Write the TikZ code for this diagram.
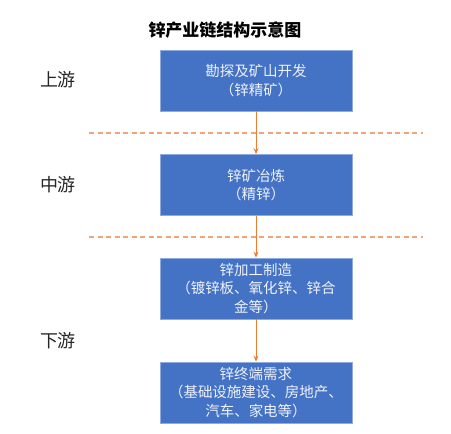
\documentclass[tikz,border=0pt]{standalone}
\usepackage{fontspec}
\newfontfamily\cjk{Noto Sans CJK SC}
\usetikzlibrary{arrows.meta}
\definecolor{boxblue}{HTML}{4472C4}
\definecolor{boxedge}{HTML}{8FAADC}
\definecolor{arrowor}{HTML}{ED7D31}
\definecolor{dashor}{HTML}{EFA57A}
\definecolor{boxtext}{HTML}{EEF2FA}
\tikzset{
  stagebox/.style={draw=boxedge, line width=0.8pt, fill=boxblue, text=boxtext,
    minimum width=192pt, minimum height=61pt, inner sep=0pt, align=center,
    font=\cjk\fontsize{14.5}{18.5}\selectfont},
  stagelabel/.style={font=\cjk\fontsize{18}{20}\selectfont, text=black!85, inner sep=0pt},
  flow/.style={draw=arrowor, line width=1pt, -{Stealth[length=6pt,width=5pt]}},
  divider/.style={draw=dashor, line width=1.1pt, dash pattern=on 5pt off 3.5pt}
}
\begin{document}
\begin{tikzpicture}[x=1pt,y=-1pt]
\useasboundingbox (0,0) rectangle (451,434);
\node[font=\cjk\bfseries\fontsize{17}{20}\selectfont, inner sep=0pt] (title) at (225,30) {锌产业链结构示意图};
\node[stagebox] (b1) at (256,80.5) {勘探及矿山开发\\（锌精矿）};
\node[stagebox] (b2) at (256,185) {锌矿冶炼\\（精锌）};
\node[stagebox] (b3) at (256,288.5) {锌加工制造\\（镀锌板、氧化锌、锌合\\金等）};
\node[stagebox] (b4) at (256,392.5) {锌终端需求\\（基础设施建设、房地产、\\汽车、家电等）};
\node[stagelabel] (l1) at (58,80) {上游};
\node[stagelabel] (l2) at (58,185) {中游};
\node[stagelabel] (l3) at (58,341) {下游};
\coordinate (d1a) at (89,133);
\coordinate (d1b) at (423,133);
\coordinate (d2a) at (89,237);
\coordinate (d2b) at (423,237);
\draw[divider] (d1a) -- (d1b);
\draw[divider] (d2a) -- (d2b);
\draw[flow] (b1) -- (b2);
\draw[flow] (b2) -- (b3);
\draw[flow] (b3) -- (b4);
\end{tikzpicture}
\end{document}
